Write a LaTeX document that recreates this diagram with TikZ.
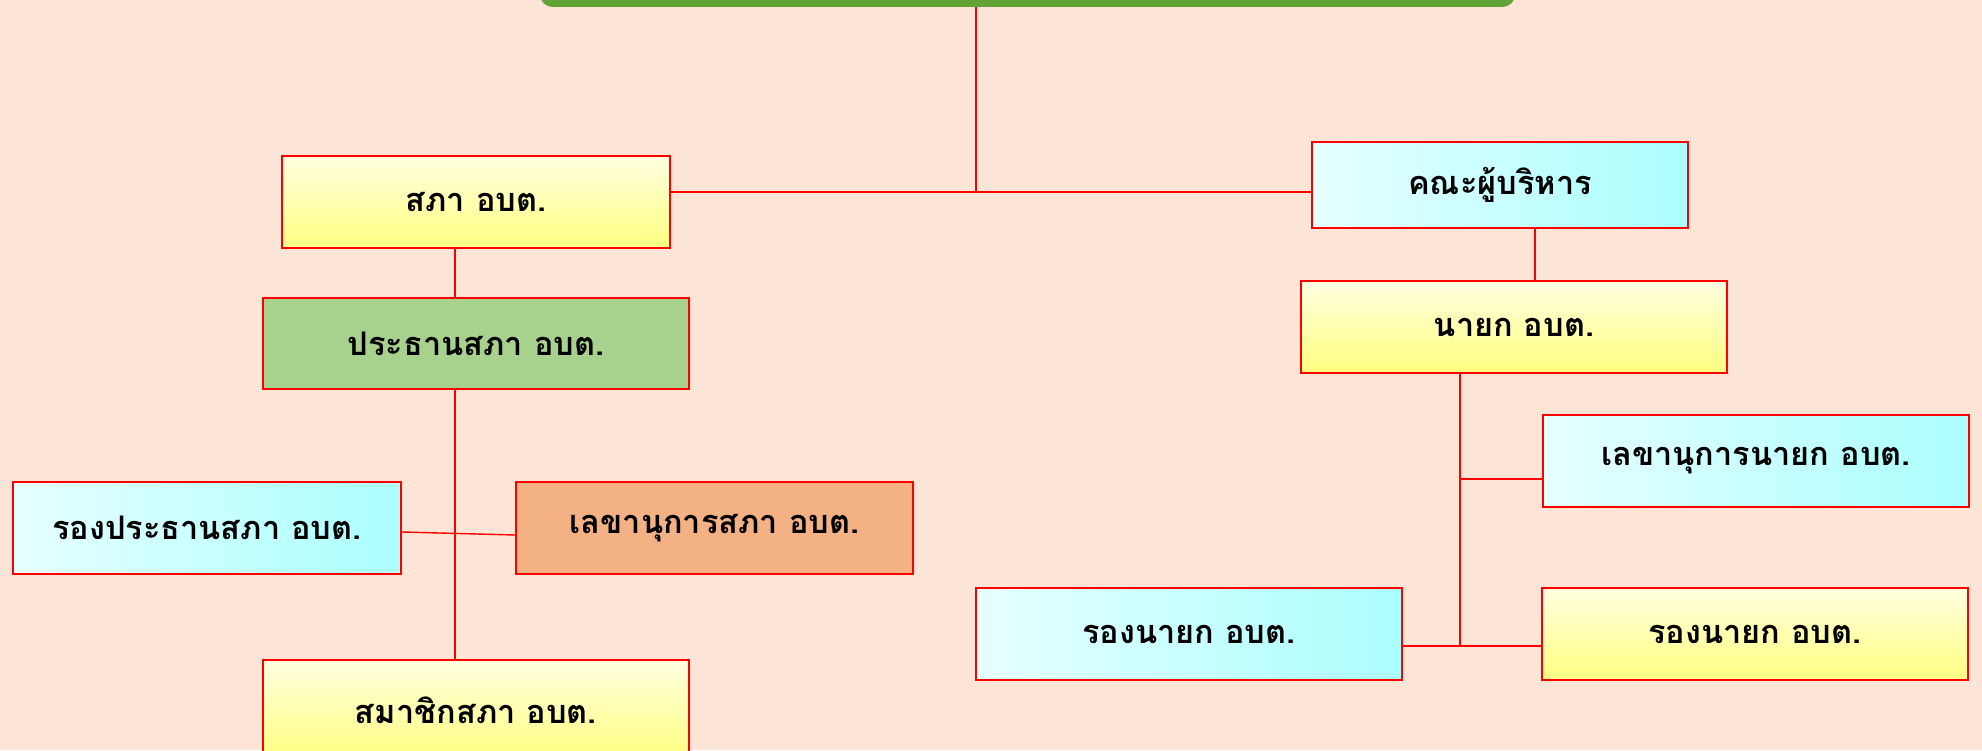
\documentclass[tikz,border=0pt]{standalone}
\usepackage{fontspec}
\newfontfamily\thaifont[Script=Thai]{Loma}
\usetikzlibrary{positioning,calc}
\definecolor{bgpeach}{HTML}{FCE4D6}
\definecolor{boxred}{HTML}{FF0000}
\definecolor{topgreen}{HTML}{62A337}
\definecolor{headgreen}{HTML}{A9D18E}
\definecolor{secorange}{HTML}{F4B183}
\definecolor{yeltop}{HTML}{FFFFE0}
\definecolor{yelbot}{HTML}{FFFF80}
\definecolor{cyanleft}{HTML}{E6FFFF}
\definecolor{cyanright}{HTML}{ABFFFF}
\tikzset{
orgbox/.style={
  draw=boxred,
  line width=1.1pt,
  inner sep=0pt,
  align=center,
  font=\thaifont\bfseries\fontsize{18.5}{22}\selectfont
  },
yelbox/.style={orgbox, top color=yeltop, bottom color=yelbot},
cyanbox/.style={orgbox, left color=cyanleft, right color=cyanright},
conn/.style={draw=boxred, line width=0.8pt}
}

\begin{document}
\begin{tikzpicture}
  \useasboundingbox (0,0) rectangle (39.64,15);
  \fill[bgpeach] (0,0) rectangle (39.64,15);
  \clip (0,0) rectangle (39.64,15);

  \node[fill=topgreen, rounded corners=0.25cm, minimum width=19.5cm, minimum height=1.48cm] (top) at (20.55,15.6) {};

  \node[yelbox, minimum width=7.76cm, minimum height=1.84cm] (sapha) at (9.52,10.96) {สภา อบต.};
  \node[cyanbox, minimum width=7.52cm, minimum height=1.72cm] (khana) at (30.0,11.3) {คณะผู้บริหาร};

  \node[orgbox, fill=headgreen, minimum width=8.52cm, minimum height=1.82cm] (prathan) at (9.52,8.13) {ประธานสภา อบต.};
  \node[cyanbox, minimum width=7.76cm, minimum height=1.84cm] (rongprathan) at (4.14,4.44) {รองประธานสภา อบต.};
  \node[orgbox, fill=secorange, minimum width=7.94cm, minimum height=1.84cm] (lekhasapha) at (14.29,4.44) {เลขานุการสภา อบต.};
  \node[yelbox, minimum width=8.52cm, minimum height=2.0cm] (samachik) at (9.52,0.8) {สมาชิกสภา อบต.};

  \node[yelbox, minimum width=8.52cm, minimum height=1.84cm] (nayok) at (30.28,8.46) {นายก อบต.};
  \node[cyanbox, minimum width=8.52cm, minimum height=1.84cm] (lekhanayok) at (35.12,5.78) {เลขานุการนายก อบต.};
  \node[cyanbox, minimum width=8.52cm, minimum height=1.84cm] (rongnayokA) at (23.78,2.32) {รองนายก อบต.};
  \node[yelbox, minimum width=8.52cm, minimum height=1.84cm] (rongnayokB) at (35.10,2.32) {รองนายก อบต.};

  % left side
  \coordinate (jtop) at (19.52,11.16);
  \coordinate (spL) at (9.1,0);
  \draw[conn] (top.south -| jtop) -- (jtop);
  \draw[conn] (sapha.east |- jtop) -- (khana.west |- jtop);
  \draw[conn] (sapha.south -| spL) -- (prathan.north -| spL);
  \draw[conn] (prathan.south -| spL) -- (samachik.north -| spL);
  \draw[conn] ([yshift=-0.08cm]rongprathan.east) -- ([yshift=-0.14cm]lekhasapha.west);

  % right side
  \coordinate (spR) at (29.2,2.08);
  \draw[conn] ([xshift=0.7cm]khana.south) -- ([xshift=0.7cm]khana.south |- nayok.north);
  \draw[conn] (nayok.south -| spR) -- (spR);
  \draw[conn] ([yshift=-0.36cm]lekhanayok.west) -- ([yshift=-0.36cm]lekhanayok.west -| spR);
  \draw[conn] (rongnayokA.east |- spR) -- (rongnayokB.west |- spR);
\end{tikzpicture}
\end{document}
